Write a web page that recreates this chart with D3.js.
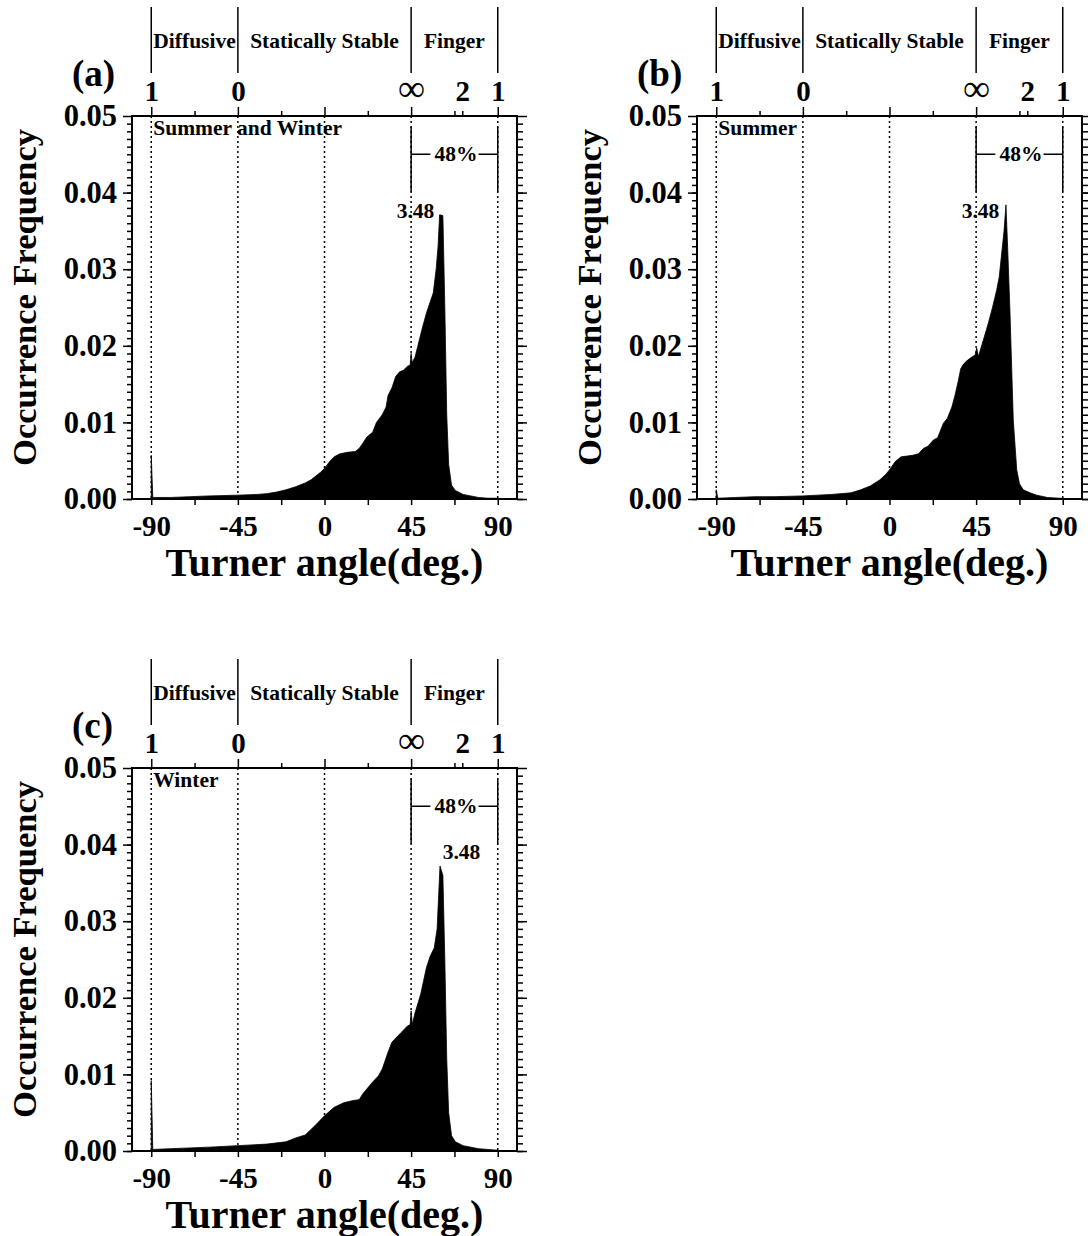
<!DOCTYPE html>
<html lang="en">
  <head>
    <meta charset="utf-8">
<style>
body { margin: 0; background: #fff; }
svg text {
    font-family: "Liberation Serif", "Times New Roman", serif;
    font-weight: bold;
    fill: #000;
}
.tick line { stroke: #000; stroke-width: 1.5; }
.xlab text, .rlab text { font-size: 29px; }
.ylab text { font-size: 30.5px; }
.rlab text.inf { font-size: 38px; font-weight: normal; }
.note { font-size: 21.5px; }
.xtitle { font-size: 40px; }
.ytitle { font-size: 34.5px; }
.tag { font-size: 37px; }
</style>
</head>
<body>
<script src="https://d3js.org/d3.v7.min.js"></script>
<script>
// Turner angle histograms, three panels
var seasonNames = ["Summer and Winter", "Summer", "Winter"],
    panelTags = ["(a)", "(b)", "(c)"];

var xMajor = [-90, -45, 0, 45, 90],
    xMinor = [-67.5, -22.5, 22.5, 67.5];

// density ratio scale on top
var ratioAngles = [-90, -45, 45, 71.57, 90],
    ratioLabels = ["1", "0", "\u221e", "2", "1"];

var regimeNames = ["Diffusive", "Statically Stable", "Finger"],
    regimeBounds = [-90, -45, 45, 90];

var shareLabel = "48%",
    peakLabel = "3.48",
    peakLabelAngles = [37.5, 37.5, 61.4],
    peakLabelFreqs = [0.0367, 0.0367, 0.0381];

var anglesAll = [-90, -89.2, -80, -70, -60, -45, -35, -30, -25, -20, -15, -10, -7, -5, -2, 0,
  3, 5, 8, 12, 16, 18, 20, 22, 25, 27, 30, 32, 33, 35, 37, 39, 41, 43, 44.5, 45, 45.5, 47,
  49, 51, 53, 55, 56.5, 58, 59, 59.8, 61.5, 62.5, 63.5, 64.5, 66, 68, 72, 76, 80, 85, 90];
var freqAll = [0.0057, 0.0002, 0.0002, 0.0003, 0.0004, 0.0005, 0.0006, 0.0007, 0.0009, 0.0012,
  0.0016, 0.0021, 0.0025, 0.0029, 0.0035, 0.0040,
  0.0050, 0.0055, 0.0059, 0.0061, 0.0062, 0.0066, 0.0073, 0.0081, 0.0087, 0.0100, 0.0110,
  0.0120, 0.0135, 0.0145, 0.0160, 0.0166, 0.0168, 0.0173, 0.0175, 0.0190, 0.0178, 0.0185,
  0.0205, 0.0225, 0.0243, 0.0258, 0.0269, 0.0300, 0.0330, 0.0371, 0.0370, 0.0250, 0.0110,
  0.0045, 0.0018, 0.0011, 0.0006, 0.0004, 0.0002, 0.0001, 0.0001];

var anglesSummer = [-90, -89.2, -80, -70, -60, -45, -30, -20, -15, -10, -5, -2, 0, 3, 6, 9, 12,
  15, 17.6, 20, 22.8, 25, 28, 30, 32.4, 34, 35.8, 37, 38.4, 40, 42, 44.5, 45.3, 46.2, 48.8,
  51.4, 53.5, 55.7, 57, 58.3, 59.5, 60.5, 61.5, 62.6, 64.3, 66.1, 67.5, 69.5, 73, 76.5, 82,
  88.5, 90];
var freqSummer = [0.0012, 0.0001, 0.0002, 0.0003, 0.0003, 0.0004, 0.0006, 0.0008, 0.0012,
  0.0017, 0.0025, 0.0032, 0.0038, 0.0049, 0.0055, 0.0056, 0.0057, 0.0059, 0.0066, 0.0069,
  0.0077, 0.0080, 0.0099, 0.0105, 0.0120, 0.0135, 0.0155, 0.0170, 0.0176, 0.0180, 0.0184,
  0.0188, 0.0197, 0.0186, 0.0208, 0.0230, 0.0250, 0.0273, 0.0290, 0.0321, 0.0350, 0.0384,
  0.0320, 0.0243, 0.0103, 0.0038, 0.0020, 0.0012, 0.0008, 0.0005, 0.0002, 0.0001, 0.0001];

var anglesWinter = [-90, -89.2, -80, -70, -60, -45, -30, -20, -15, -10, -5, 0, 5, 10, 15, 18,
  20, 25, 28, 30, 33, 35, 38, 40, 43, 44.5, 45, 45.6, 47, 50, 53, 55, 57, 58.5, 60, 61.5,
  62.5, 63.5, 64.5, 66, 68, 72, 80, 90];
var freqWinter = [0.0092, 0.0002, 0.0003, 0.0004, 0.0005, 0.0007, 0.0009, 0.0012, 0.0017,
  0.0021, 0.0033, 0.0046, 0.0057, 0.0063, 0.0066, 0.0067, 0.0075, 0.0090, 0.0098, 0.0107,
  0.0129, 0.0142, 0.0150, 0.0155, 0.0163, 0.0165, 0.0183, 0.0165, 0.0180, 0.0205, 0.0240,
  0.0255, 0.0265, 0.0290, 0.0372, 0.0360, 0.0250, 0.0120, 0.0050, 0.0020, 0.0012, 0.0007,
  0.0003, 0.0001];

var svg = d3.select("body").append("svg")
    .attr("width", 1088)
    .attr("height", 1236);

var pw = 385, ph = 383;

var panels = [
  {left: 132, top: 116, angles: anglesAll, freqs: freqAll},
  {left: 697, top: 116, angles: anglesSummer, freqs: freqSummer},
  {left: 132, top: 768, angles: anglesWinter, freqs: freqWinter}
];

panels.forEach(drawPanel);

function drawPanel(p, i) {
  var x = d3.scaleLinear().domain([-100, 100]).range([0, pw]),
      y = d3.scaleLinear().domain([0, 0.05]).range([ph, 0]);

  var g = svg.append("g").attr("transform", "translate(" + p.left + "," + p.top + ")");

  var pts = p.angles.map(function(a, k) { return [a, p.freqs[k]]; });

  var area = d3.area()
      .x(function(d) { return x(d[0]); })
      .y0(y(0))
      .y1(function(d) { return y(d[1]); });

  g.append("path")
      .datum(pts)
      .attr("d", area)
      .attr("fill", "#000")
      .attr("stroke", "#000")
      .attr("stroke-width", 0.8);

  // dotted guides
  g.selectAll(".guide").data(xMajor).enter().append("line")
      .attr("x1", x).attr("x2", x)
      .attr("y1", 0).attr("y2", ph)
      .attr("stroke", "#000")
      .attr("stroke-width", 1.5)
      .attr("stroke-dasharray", "2,3");

  // bottom axis
  g.append("g").attr("class", "xlab")
      .attr("transform", "translate(0," + ph + ")")
      .call(d3.axisBottom(x).tickValues(xMajor).tickSize(6).tickPadding(10)
          .tickFormat(function(d) { return String(d); }))
      .call(function(s) { s.select(".domain").remove(); });
  g.append("g")
      .attr("transform", "translate(0," + ph + ")")
      .call(d3.axisBottom(x).tickValues(xMinor).tickSize(6).tickFormat(""))
      .call(function(s) { s.select(".domain").remove(); });

  // left axis
  g.append("g").attr("class", "ylab")
      .call(d3.axisLeft(y).tickValues(d3.range(0, 0.0501, 0.01)).tickSize(9).tickPadding(6)
          .tickFormat(d3.format(".2f")))
      .call(function(s) { s.select(".domain").remove(); });
  g.append("g")
      .call(d3.axisLeft(y).tickValues(d3.range(0, 0.05, 0.001)).tickSize(5).tickFormat(""))
      .call(function(s) { s.select(".domain").remove(); });

  // right axis
  g.append("g")
      .attr("transform", "translate(" + pw + ",0)")
      .call(d3.axisRight(y).tickValues(d3.range(0, 0.0501, 0.01)).tickSize(10).tickFormat(""))
      .call(function(s) { s.select(".domain").remove(); });
  g.append("g")
      .attr("transform", "translate(" + pw + ",0)")
      .call(d3.axisRight(y).tickValues(d3.range(0, 0.05, 0.001)).tickSize(6).tickFormat(""))
      .call(function(s) { s.select(".domain").remove(); });

  // top axis: density ratio
  g.append("g")
      .call(d3.axisTop(x).tickValues(xMajor).tickSize(9).tickFormat(""))
      .call(function(s) { s.select(".domain").remove(); });
  g.append("g")
      .call(d3.axisTop(x).tickValues(xMinor.concat([ratioAngles[3]])).tickSize(5).tickFormat(""))
      .call(function(s) { s.select(".domain").remove(); });
  g.append("g").attr("class", "rlab")
      .call(d3.axisTop(x).tickValues(ratioAngles).tickSize(0).tickPadding(15)
          .tickFormat(function(d, k) { return ratioLabels[k]; }))
      .call(function(s) {
        s.select(".domain").remove();
        s.selectAll("line").remove();
        s.selectAll("text").classed("inf", function(d, k) { return ratioLabels[k] === "\u221e"; });
      });

  g.append("rect")
      .attr("width", pw).attr("height", ph)
      .attr("fill", "none")
      .attr("stroke", "#000")
      .attr("stroke-width", 2);

  // regime separators and names
  g.selectAll(".sep").data(regimeBounds).enter().append("line")
      .attr("x1", x).attr("x2", x)
      .attr("y1", -109).attr("y2", -43)
      .attr("stroke", "#000")
      .attr("stroke-width", 1.5);
  g.selectAll(".regime").data(regimeNames).enter().append("text")
      .attr("class", "note")
      .attr("x", function(d, k) { return x((regimeBounds[k] + regimeBounds[k + 1]) / 2); })
      .attr("y", -68)
      .attr("text-anchor", "middle")
      .text(function(d) { return d; });

  // 48% bracket
  var bl = x(45), br = x(90), by = y(0.045);
  g.append("path")
      .attr("d", "M" + bl + "," + y(0.0486) + "V" + y(0.0401) +
                 "M" + br + "," + y(0.0486) + "V" + y(0.0401) +
                 "M" + bl + "," + by + "H" + x(55) +
                 "M" + x(80) + "," + by + "H" + br)
      .attr("stroke", "#000")
      .attr("stroke-width", 1.5)
      .attr("fill", "none");
  g.append("text").attr("class", "note")
      .attr("x", x(68.3)).attr("y", y(0.0441))
      .attr("text-anchor", "middle")
      .text(shareLabel);

  g.append("text").attr("class", "note")
      .attr("x", x(peakLabelAngles[i])).attr("y", y(peakLabelFreqs[i]))
      .text(peakLabel);

  g.append("text").attr("class", "note")
      .attr("x", x(-90) + 2).attr("y", 19)
      .text(seasonNames[i]);

  g.append("text").attr("class", "tag")
      .attr("x", -60).attr("y", -30)
      .text(panelTags[i]);

  g.append("text").attr("class", "xtitle")
      .attr("x", pw / 2).attr("y", ph + 77)
      .attr("text-anchor", "middle")
      .text("Turner angle(deg.)");

  g.append("text").attr("class", "ytitle")
      .attr("transform", "translate(-96," + (ph / 2 - 10) + ") rotate(-90)")
      .attr("text-anchor", "middle")
      .text("Occurrence Frequency");
}
</script>
</body>
</html>
